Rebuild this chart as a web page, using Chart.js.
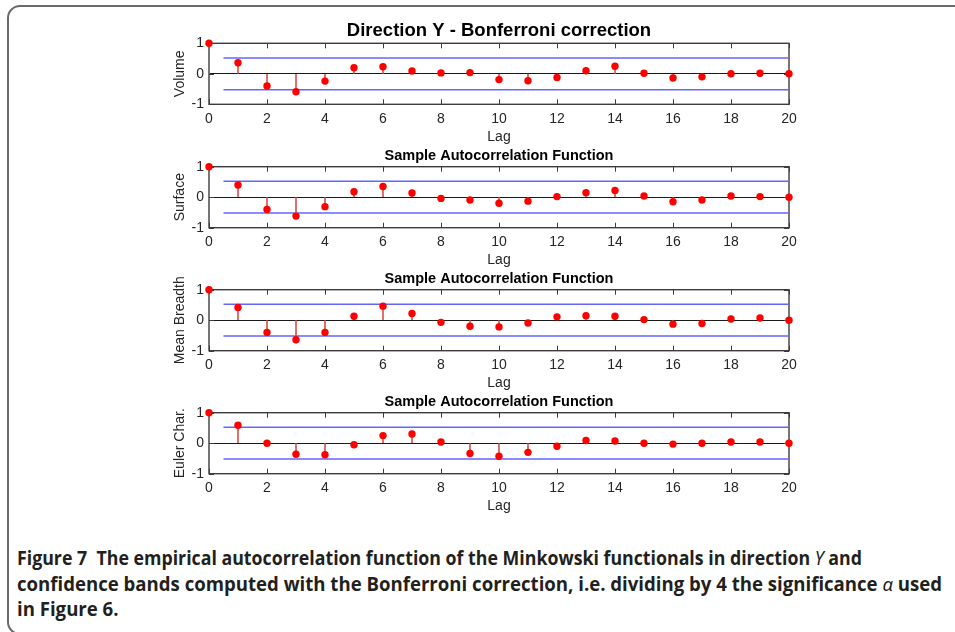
<!DOCTYPE html>
<html>
<head>
<meta charset="utf-8">
<script src="https://cdn.jsdelivr.net/npm/chart.js@4.4.1/dist/chart.umd.min.js"></script>
<style>
  html, body { margin: 0; padding: 0; background: #fff; }
  body { width: 955px; height: 632px; position: relative; overflow: hidden; }
  .frame { position: absolute; left: 7px; top: 5px; width: 1000px; height: 630px;
           border: 2px solid #6a6a6a; border-radius: 13px; box-sizing: border-box; }
  canvas.plot { position: absolute; left: 150px; }
  .caption { position: absolute; left: 17px; top: 546px; font-family: 'Open Sans', 'Noto Sans', sans-serif;
             font-weight: 700; font-size: 19px; line-height: 25.5px; color: #231f20; }
  .caption div { white-space: nowrap; transform-origin: 0 0; display: inline-block; }
  .caption i { font-weight: 400; font-family: 'Noto Sans', 'DejaVu Sans', serif; }
</style>
</head>
<body>
<div class="frame"></div>
<canvas class="plot" id="acf0"></canvas>
<canvas class="plot" id="acf1"></canvas>
<canvas class="plot" id="acf2"></canvas>
<canvas class="plot" id="acf3"></canvas>
<div class="caption">
  <div id="cap1">Figure 7&nbsp; The empirical autocorrelation function of the Minkowski functionals in direction <i>Y</i> and</div><br>
  <div id="cap2">confidence bands computed with the Bonferroni correction, i.e. dividing by 4 the significance <i>α</i> used</div><br>
  <div id="cap3">in Figure 6.</div>
</div>
<script>
// lags 0..20
const lags = [0, 1, 2, 3, 4, 5, 6, 7, 8, 9, 10, 11, 12, 13, 14, 15, 16, 17, 18, 19, 20];

// sample autocorrelation of each Minkowski functional
const volumeAcf      = [1, 0.36, -0.40, -0.59, -0.24, 0.20, 0.23, 0.09, 0.03, 0.04, -0.19, -0.23, -0.12, 0.10, 0.25, 0.02, -0.14, -0.10, 0.00, 0.02, 0.00];
const surfaceAcf     = [1, 0.40, -0.40, -0.62, -0.31, 0.18, 0.35, 0.14, -0.04, -0.09, -0.20, -0.13, 0.02, 0.15, 0.22, 0.04, -0.15, -0.09, 0.04, 0.02, 0.00];
const meanBreadthAcf = [1, 0.42, -0.40, -0.64, -0.40, 0.13, 0.46, 0.22, -0.07, -0.20, -0.22, -0.09, 0.11, 0.15, 0.13, 0.02, -0.13, -0.11, 0.04, 0.07, 0.00];
const eulerAcf       = [1, 0.59, 0.00, -0.36, -0.38, -0.05, 0.25, 0.30, 0.04, -0.34, -0.43, -0.30, -0.10, 0.09, 0.07, 0.00, -0.03, 0.00, 0.04, 0.04, 0.00];

// Bonferroni confidence bands (+/- level) drawn from lag 0.5 to 20
const bandLags = [0.5, 20];
const bandLevels = [0.52, 0.52, 0.52, 0.52];

const xTicks = [0, 2, 4, 6, 8, 10, 12, 14, 16, 18, 20];
const yTicks = [-1, 0, 1];
const yTitles = ['Volume', 'Surface', 'Mean Breadth', 'Euler Char.'];
const plotTitles = ['Direction Y - Bonferroni correction', 'Sample Autocorrelation Function',
                    'Sample Autocorrelation Function', 'Sample Autocorrelation Function'];
const series = [volumeAcf, surfaceAcf, meanBreadthAcf, eulerAcf];

// layout (page pixels)
const chartTops = [43.3, 166.7, 289.7, 412.7];
const titleSizes = [18.5, 14.5, 14.5, 14.5];
const titleGaps = [1.7, 2.3, 2.3, 2.3];
const areaH = 61, xAxisH = 42, yAxisW = 59, canvasW = 660, rightPad = 21;

const FONT = "'Liberation Sans', Arial, Helvetica, sans-serif";
const INK = '#262626';

const boxPlugin = {
    id: 'box',
    beforeDatasetsDraw(chart) {
        const { ctx, chartArea: a, scales: { x, y } } = chart;
        ctx.save();
        ctx.strokeStyle = '#3c3c3c';
        ctx.lineWidth = 1.4;
        ctx.strokeRect(a.left, a.top, a.right - a.left, a.bottom - a.top);
        ctx.lineWidth = 1;
        ctx.beginPath();
        x.ticks.forEach(t => {
            const px = Math.round(x.getPixelForValue(t.value)) + 0.5;
            ctx.moveTo(px, a.top); ctx.lineTo(px, a.top + 5);
            ctx.moveTo(px, a.bottom); ctx.lineTo(px, a.bottom - 5);
        });
        y.ticks.forEach(t => {
            const py = Math.round(y.getPixelForValue(t.value)) + 0.5;
            ctx.moveTo(a.left, py); ctx.lineTo(a.left + 5, py);
            ctx.moveTo(a.right, py); ctx.lineTo(a.right - 5, py);
        });
        ctx.stroke();
        ctx.restore();
    }
};

series.forEach((values, i) => {
    const canvas = document.getElementById('acf' + i);
    const titleH = titleSizes[i] * 1.2 + titleGaps[i];
    const top = chartTops[i];
    const canvasTop = Math.floor(top - titleH - 1);
    const padTop = top - titleH - canvasTop;
    const H = Math.ceil(top + areaH + xAxisH - canvasTop);
    const padBottom = canvasTop + H - (top + areaH + xAxisH);
    canvas.style.top = canvasTop + 'px';
    canvas.width = canvasW;
    canvas.height = H;

    const pts = lags.map((l, k) => ({ x: l, y: values[k] }));
    const level = bandLevels[i];

    new Chart(canvas.getContext('2d'), {
        type: 'scatter',
        data: {
            datasets: [
                {
                    type: 'scatter',
                    data: pts,
                    pointRadius: 3.7,
                    pointBackgroundColor: '#ff0000',
                    pointBorderColor: '#ff0000',
                    pointBorderWidth: 0,
                    clip: false,
                    order: 0
                },
                {
                    type: 'bar',
                    data: pts,
                    backgroundColor: '#d9534f',
                    barThickness: 1,
                    borderWidth: 0,
                    order: 1
                },
                {
                    type: 'line',
                    data: bandLags.map(l => ({ x: l, y: level })),
                    borderColor: '#6464ff',
                    borderWidth: 1.5,
                    pointRadius: 0,
                    order: 2
                },
                {
                    type: 'line',
                    data: bandLags.map(l => ({ x: l, y: -level })),
                    borderColor: '#6464ff',
                    borderWidth: 1.5,
                    pointRadius: 0,
                    order: 2
                }
            ]
        },
        options: {
            responsive: false,
            animation: false,
            events: [],
            layout: { padding: { top: padTop, bottom: padBottom, left: 0, right: rightPad } },
            plugins: {
                legend: { display: false },
                tooltip: { enabled: false },
                title: {
                    display: true,
                    text: plotTitles[i],
                    fullSize: false,
                    color: '#000',
                    font: { family: FONT, size: titleSizes[i], weight: 'bold', lineHeight: 1.2 },
                    padding: { top: 0, bottom: titleGaps[i] }
                }
            },
            scales: {
                x: {
                    type: 'linear',
                    min: 0,
                    max: 20,
                    offset: false,
                    afterBuildTicks: s => { s.ticks = xTicks.map(v => ({ value: v })); },
                    afterFit: s => { s.height = xAxisH; },
                    grid: { display: false, drawTicks: false },
                    border: { display: false },
                    ticks: { color: INK, padding: 6.3, font: { family: FONT, size: 14 } },
                    title: {
                        display: true,
                        text: 'Lag',
                        color: INK,
                        font: { family: FONT, size: 14 },
                        padding: { top: 0, bottom: 0.9 }
                    }
                },
                y: {
                    min: -1,
                    max: 1,
                    afterBuildTicks: s => { s.ticks = yTicks.map(v => ({ value: v })); },
                    afterFit: s => { s.width = yAxisW; },
                    grid: {
                        drawTicks: false,
                        color: ctx => ctx.tick && ctx.tick.value === 0 ? '#1a1a1a' : 'rgba(0,0,0,0)',
                        lineWidth: 1
                    },
                    border: { display: false },
                    ticks: { color: INK, padding: 5, font: { family: FONT, size: 14 } },
                    title: {
                        display: true,
                        text: yTitles[i],
                        color: INK,
                        font: { family: FONT, size: 14 },
                        padding: { top: 21.6, bottom: 0 }
                    }
                }
            }
        },
        plugins: [boxPlugin]
    });
});

// fit caption lines to the widths of the printed figure
function fitCaption() {
    const targets = { cap1: 845, cap2: 925 };
    let s2 = 1;
    ['cap1', 'cap2'].forEach(id => {
        const el = document.getElementById(id);
        el.style.transform = '';
        const s = targets[id] / el.getBoundingClientRect().width;
        if (id === 'cap2') s2 = s;
        el.style.transform = 'scaleX(' + s + ')';
    });
    document.getElementById('cap3').style.transform = 'scaleX(' + s2 + ')';
}
fitCaption();
</script>
</body>
</html>
